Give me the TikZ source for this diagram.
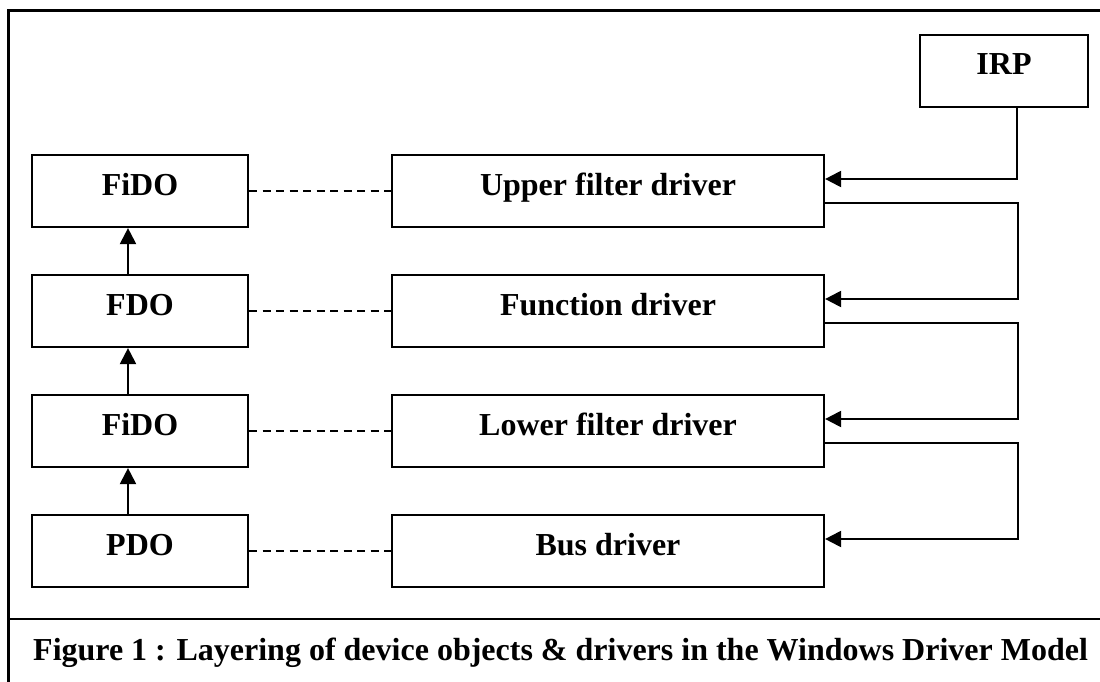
\documentclass[tikz,border=0pt]{standalone}
\usepackage{fontspec}
\setmainfont{Liberation Serif}
\usetikzlibrary{arrows.meta}
\begin{document}
\begin{tikzpicture}[x=1pt,y=-1pt,
  every node/.style={font=\fontsize{32}{36}\selectfont\bfseries},
  box/.style={draw, line width=2.2pt, minimum height=72pt, inner sep=0pt,
              text height=22pt, text depth=14pt},
  objbox/.style={box, minimum width=216pt},
  drvbox/.style={box, minimum width=432pt},
  link/.style={line width=2.2pt, dash pattern=on 8pt off 5.5pt},
  flow/.style={line width=2.2pt, -{Triangle[length=16pt 0 0,width=16pt 0 0]}},
  frameline/.style={line width=3pt}
]
\useasboundingbox (0,0) rectangle (1100,682);

% outer frame and caption rule
\draw[frameline] (1100,11) -- (8,11) -- (8,682);
\draw[line width=2.4pt] (8,619) -- (1100,619);

% device objects
\node[objbox] (fido1) at (140,191) {FiDO};
\node[objbox] (fdo)   at (140,311) {FDO};
\node[objbox] (fido2) at (140,431) {FiDO};
\node[objbox] (pdo)   at (140,551) {PDO};

% drivers
\node[drvbox] (ufd) at (608,191) {Upper filter driver};
\node[drvbox] (fd)  at (608,311) {Function driver};
\node[drvbox] (lfd) at (608,431) {Lower filter driver};
\node[drvbox] (bd)  at (608,551) {Bus driver};

% request packet
\node[box, minimum width=168pt] (irp) at (1004,71) {IRP};

% object-to-driver association
\draw[link] (fido1.east) -- (ufd.west);
\draw[link] (fdo.east)   -- (fd.west);
\draw[link] (fido2.east) -- (lfd.west);
\draw[link] (pdo.east)   -- (bd.west);

% object stack
\draw[flow] ([xshift=-12pt]pdo.north)   -- ([xshift=-12pt]fido2.south);
\draw[flow] ([xshift=-12pt]fido2.north) -- ([xshift=-12pt]fdo.south);
\draw[flow] ([xshift=-12pt]fdo.north)   -- ([xshift=-12pt]fido1.south);

% IRP passed down the driver stack
\draw[flow] ([xshift=13pt]irp.south) |- ([yshift=12pt]ufd.east);
\draw[flow] ([yshift=-12pt]ufd.east) -- ++(193,0) |- ([yshift=12pt]fd.east);
\draw[flow] ([yshift=-12pt]fd.east)  -- ++(193,0) |- ([yshift=12pt]lfd.east);
\draw[flow] ([yshift=-12pt]lfd.east) -- ++(193,0) |- ([yshift=12pt]bd.east);

% caption
\node[anchor=base west, inner sep=0pt] (cap) at (33,660)
  {Figure 1 : Layering of device objects \& drivers in the Windows Driver Model};
\end{tikzpicture}
\end{document}
